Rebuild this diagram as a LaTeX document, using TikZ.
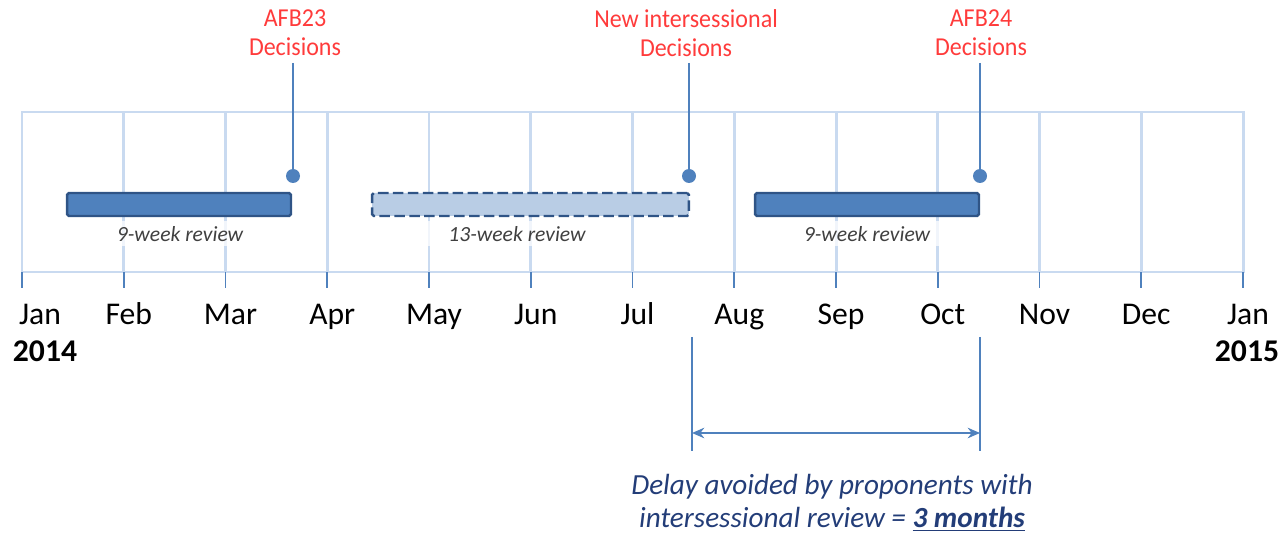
\documentclass[tikz,border=0pt]{standalone}
\usepackage{fontspec}
\setmainfont{Carlito}
\newfontfamily\narrowfont{Carlito}[FakeStretch=0.93]
\usetikzlibrary{arrows.meta}
\definecolor{gridc}{HTML}{C9DAF0}
\definecolor{accent}{HTML}{4F81BD}
\definecolor{bardark}{HTML}{2F5486}
\definecolor{barlight}{HTML}{B9CDE5}
\definecolor{redtxt}{HTML}{FF3B3B}
\definecolor{navy}{HTML}{233D78}
\definecolor{graytxt}{HTML}{404040}
\tikzset{
  gridline/.style={draw=gridc, line width=1.7pt},
  tickline/.style={draw=accent, line width=1.1pt},
  month/.style={font=\fontsize{18}{20}\selectfont, text=black, inner sep=0pt, anchor=base},
  year/.style={font=\fontsize{18}{20}\selectfont\bfseries, text=black, inner sep=0pt, anchor=base},
  solidbar/.style={draw=bardark, fill=accent, line width=1.4pt, rounded corners=1pt, minimum height=0.46cm, inner sep=0pt},
  dashbar/.style={draw=bardark, fill=barlight, line width=1.4pt, rounded corners=1pt, minimum height=0.46cm, inner sep=0pt, dash pattern=on 6pt off 2.5pt},
  revlabel/.style={font=\fontsize{12.3}{14}\selectfont\itshape, text=graytxt, fill=white, fill opacity=0.75, text opacity=1, minimum height=0.5cm, inner ysep=0pt},
  decdot/.style={circle, fill=accent, minimum size=0.28cm, inner sep=0pt},
  decline/.style={draw=accent, line width=1.1pt},
  declabel/.style={font=\narrowfont\fontsize{14.7}{16.5}\selectfont, text=redtxt, align=center, inner sep=0pt},
  bracket/.style={draw=accent, line width=1.1pt},
  delay/.style={font=\fontsize{16.6}{18.7}\selectfont\itshape, text=navy, align=center, inner sep=0pt}
}
\begin{document}
\begin{tikzpicture}[x=0.02cm, y=-0.02cm]
\useasboundingbox (0,0) rectangle (1282,533);
% grid
\draw[gridline] (22,112) rectangle (1243,272);
\foreach \i in {1,...,11} {
  \draw[gridline] (22+\i*101.75,112) -- (22+\i*101.75,272);
}
\foreach \i in {0,...,12} {
  \draw[tickline] (22+\i*101.75,272) -- (22+\i*101.75,288);
}
% month labels
\node[month] (m0) at (40,325) {Jan};
\foreach \m [count=\i] in {Feb,Mar,Apr,May,Jun,Jul,Aug,Sep,Oct,Nov,Dec,Jan} {
  \node[month] (m\i) at (27+\i*101.75,325) {\m};
}
\node[year] (y2014) at (45,362) {2014};
\node[year] (y2015) at (1247,362) {2015};
% bars
\node[solidbar, minimum width=4.48cm] (bar1) at (179,204.5) {};
\node[dashbar, minimum width=6.34cm] (bar2) at (530.5,204.5) {};
\node[solidbar, minimum width=4.48cm] (bar3) at (867,204.5) {};
\node[revlabel, minimum width=3.7cm] (rev1) at (180,234) {9-week review};
\node[revlabel, minimum width=3.7cm] (rev2) at (517,234) {13-week review};
\node[revlabel, minimum width=3.4cm] (rev3) at (867,234) {9-week review};
% decisions
\node[declabel] (d1) at (295,33) {AFB23\\Decisions};
\node[declabel] (d2) at (686,33) {New intersessional\\Decisions};
\node[declabel] (d3) at (981,33) {AFB24\\Decisions};
\node[decdot] (p1) at (293,176) {};
\node[decdot] (p2) at (689,176) {};
\node[decdot] (p3) at (980,176) {};
\coordinate (t1) at (293,63);
\coordinate (t2) at (689,63);
\coordinate (t3) at (980,63);
\draw[decline] (t1) -- (p1.center);
\draw[decline] (t2) -- (p2.center);
\draw[decline] (t3) -- (p3.center);
% bracket
\coordinate (ba) at (692,337);
\coordinate (bb) at (692,451);
\coordinate (bc) at (980,337);
\coordinate (bd) at (980,451);
\coordinate (aa) at (692,433);
\coordinate (ab) at (980,433);
\draw[bracket] (ba) -- (bb);
\draw[bracket] (bc) -- (bd);
\draw[bracket, {Stealth[length=7pt,width=6pt]}-{Stealth[length=7pt,width=6pt]}] (aa) -- (ab);
\node[delay] (delaytxt) at (832,503) {Delay avoided by proponents with\\intersessional review = \textbf{\underline{3 months}}};
\end{tikzpicture}
\end{document}
